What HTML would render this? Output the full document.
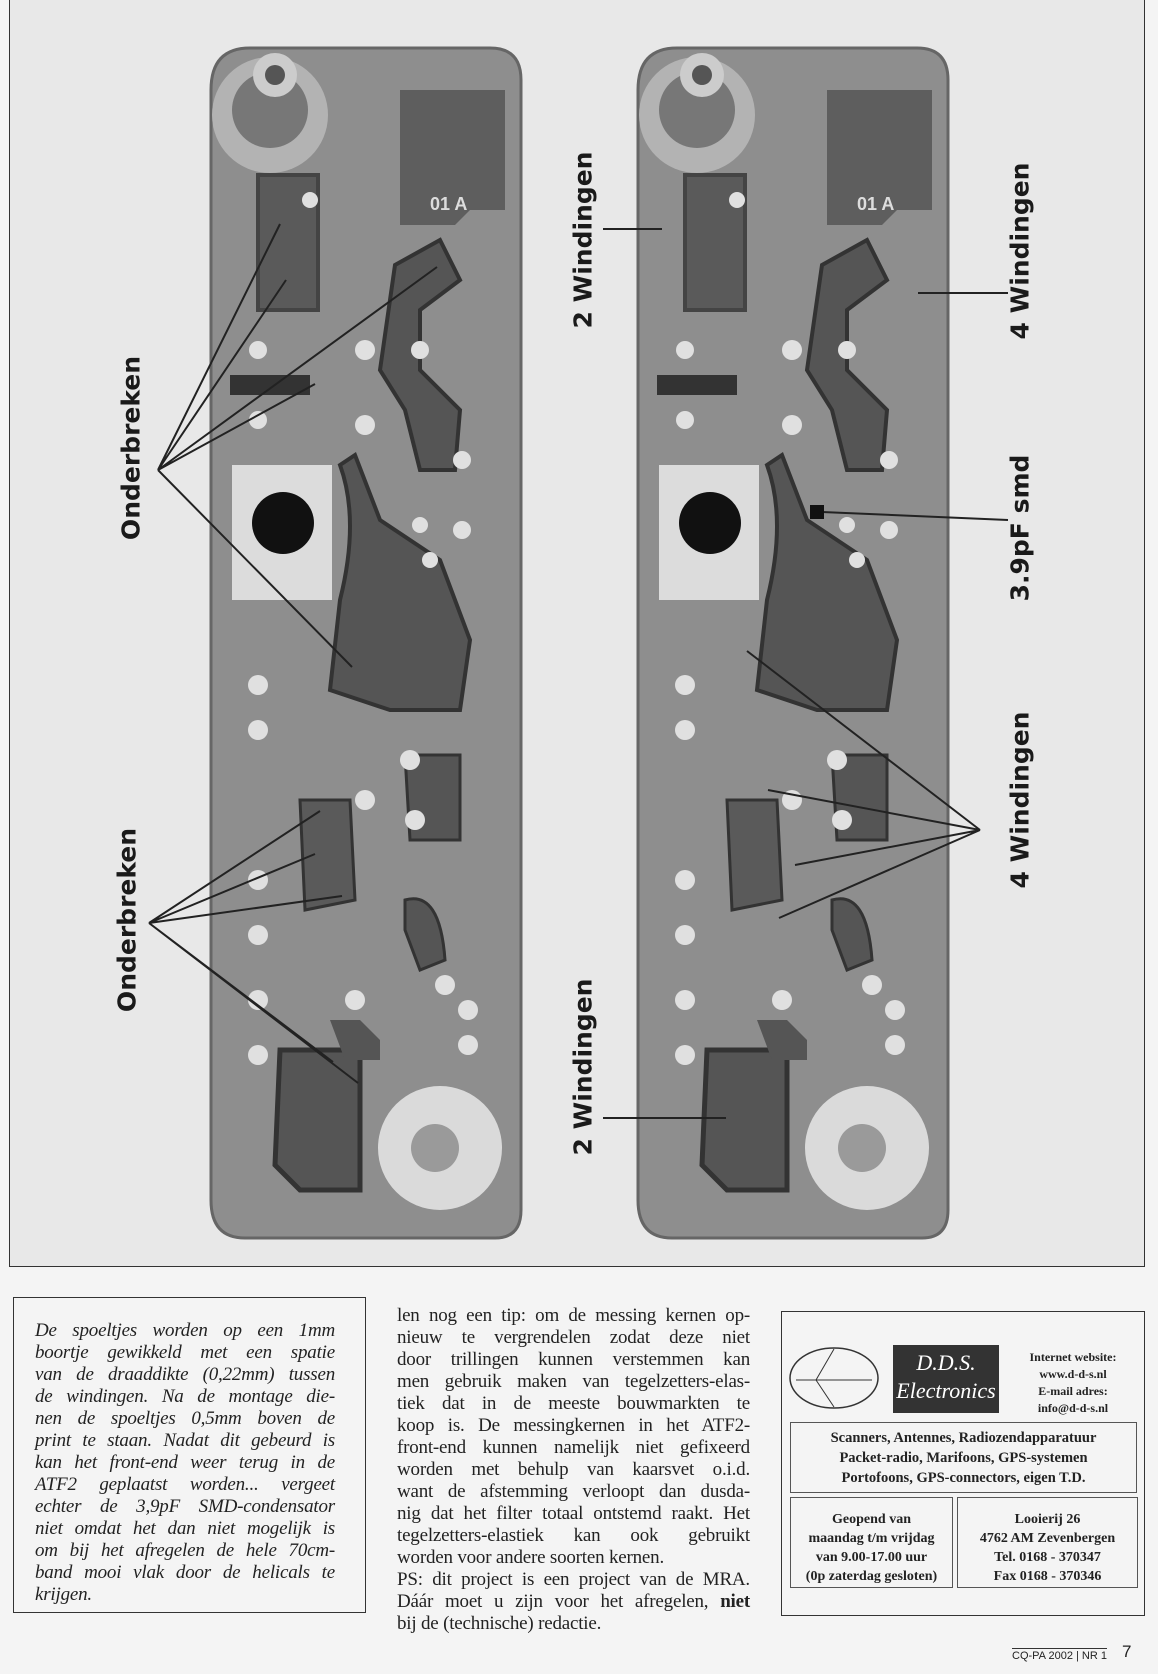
<!DOCTYPE html>
<html><head><meta charset="utf-8"><style>
body{margin:0;width:1158px;height:1674px;background:#f4f4f4;position:relative;overflow:hidden;font-family:"Liberation Serif",serif;color:#222}
.lbl{position:absolute;font-family:"DejaVu Sans","Liberation Sans",sans-serif;font-weight:bold;font-size:25px;color:#1a1a1a;transform:translate(-50%,-50%) rotate(-90deg);white-space:nowrap}
.l{white-space:nowrap;text-align:justify;text-align-last:justify;height:22px;line-height:22px}
</style></head><body>
<div style="position:absolute;left:9px;top:0;width:1134px;height:1266px;border:1px solid #333;border-top:none;background:#e8e8e8"></div>
<svg width="1158" height="1674" style="position:absolute;left:0;top:0">
<defs>
<g id="pcb">
<path d="M250 48 H490 Q521 48 521 80 V1210 Q521 1238 495 1238 H245 Q211 1238 211 1200 V90 Q211 48 250 48Z" fill="#8e8e8e" stroke="#666" stroke-width="3"/>
<path d="M400 90 H505 V210 H470 L455 225 H400Z" fill="#5e5e5e"/>
<text x="430" y="210" font-family="Liberation Sans" font-weight="bold" font-size="18" fill="#ddd">01 A</text>
<circle cx="270" cy="115" r="58" fill="#b3b3b3"/><circle cx="270" cy="110" r="38" fill="#777"/><circle cx="275" cy="75" r="22" fill="#ccc"/><circle cx="275" cy="75" r="10" fill="#555"/>
<path d="M258 175 H318 V310 H258Z" fill="#5a5a5a" stroke="#444" stroke-width="4"/>
<path d="M395 265 L440 240 L460 280 L420 310 L420 370 L460 410 L455 470 L420 470 L405 410 L380 370Z" fill="#555" stroke="#333" stroke-width="4"/>
<rect x="230" y="375" width="80" height="20" fill="#333"/>
<rect x="232" y="465" width="100" height="135" fill="#dcdcdc"/>
<circle cx="283" cy="523" r="31" fill="#111"/>
<path d="M340 465 Q360 520 340 600 L330 690 L390 710 L460 710 L470 640 L440 560 L380 520 L355 455Z" fill="#555" stroke="#333" stroke-width="4"/>
<path d="M405 755 H460 V840 H410Z" fill="#555" stroke="#333" stroke-width="3"/>
<path d="M300 800 L350 800 L355 900 L305 910Z" fill="#5a5a5a" stroke="#333" stroke-width="3"/>
<path d="M405 900 Q440 890 445 960 L420 970 L405 930Z" fill="#555" stroke="#333" stroke-width="3"/>
<path d="M280 1050 H360 V1190 H300 L275 1165Z" fill="#555" stroke="#333" stroke-width="5"/>
<path d="M330 1020 L360 1020 L380 1040 L380 1060 L345 1060Z" fill="#555"/>
<circle cx="440" cy="1148" r="62" fill="#dadada"/><circle cx="435" cy="1148" r="24" fill="#9a9a9a"/>
<g fill="#e0e0e0">
<circle cx="258" cy="350" r="9"/><circle cx="258" cy="420" r="9"/><circle cx="258" cy="685" r="10"/><circle cx="258" cy="730" r="10"/><circle cx="258" cy="880" r="10"/><circle cx="258" cy="935" r="10"/><circle cx="258" cy="1000" r="10"/><circle cx="258" cy="1055" r="10"/>
<circle cx="365" cy="350" r="10"/><circle cx="365" cy="425" r="10"/><circle cx="420" cy="350" r="9"/><circle cx="462" cy="460" r="9"/><circle cx="462" cy="530" r="9"/><circle cx="420" cy="525" r="8"/>
<circle cx="410" cy="760" r="10"/><circle cx="415" cy="820" r="10"/><circle cx="365" cy="800" r="10"/><circle cx="445" cy="985" r="10"/><circle cx="468" cy="1010" r="10"/><circle cx="468" cy="1045" r="10"/><circle cx="355" cy="1000" r="10"/><circle cx="310" cy="200" r="8"/><circle cx="430" cy="560" r="8"/>
</g>
</g>
</defs>
<use href="#pcb"/>
<use href="#pcb" transform="translate(427,0)"/>
<g stroke="#222" stroke-width="2" fill="none">
<path d="M280 224 L158 470 L286 280 M158 470 L437 267 M158 470 L315 384 M158 470 L352 667"/>
<path d="M320 811 L149 923 L315 854 M149 923 L342 896 M149 923 L333 1062 M149 923 L358 1083"/>
<path d="M603 229 H662 M918 293 H1008 M1008 520 L822 512 M980 830 L747 651 M980 830 L768 790 M980 830 L779 918 M980 830 L795 865 M603 1118 H726"/>
</g>
<rect x="810" y="505" width="14" height="14" fill="#111"/>
</svg>
<div class="lbl" style="left:131px;top:448px">Onderbreken</div>
<div class="lbl" style="left:127px;top:920px">Onderbreken</div>
<div class="lbl" style="left:583px;top:240px">2 Windingen</div>
<div class="lbl" style="left:583px;top:1067px">2 Windingen</div>
<div class="lbl" style="left:1020px;top:251px">4 Windingen</div>
<div class="lbl" style="left:1020px;top:528px">3.9pF smd</div>
<div class="lbl" style="left:1020px;top:800px">4 Windingen</div>

<div style="position:absolute;left:13px;top:1297px;width:351px;height:314px;border:1px solid #333;background:#f4f4f4"></div>
<div style="position:absolute;left:35px;top:1320px;width:300px;font-style:italic;font-size:19px;letter-spacing:-0.2px">
<div class="l">De spoeltjes worden op een 1mm</div><div class="l">boortje gewikkeld met een spatie</div><div class="l">van de draaddikte (0,22mm) tussen</div><div class="l">de windingen. Na de montage die-</div><div class="l">nen de spoeltjes 0,5mm boven de</div><div class="l">print te staan. Nadat dit gebeurd is</div><div class="l">kan het front-end weer terug in de</div><div class="l">ATF2 geplaatst worden... vergeet</div><div class="l">echter de 3,9pF SMD-condensator</div><div class="l">niet omdat het dan niet mogelijk is</div><div class="l">om bij het afregelen de hele 70cm-</div><div class="l">band mooi vlak door de helicals te</div><div class="l" style="text-align-last:left">krijgen.</div>
</div>
<div style="position:absolute;left:397px;top:1305px;width:353px;font-size:19px;letter-spacing:-0.2px">
<div class="l">len nog een tip: om de messing kernen op-</div><div class="l">nieuw te vergrendelen zodat deze niet</div><div class="l">door trillingen kunnen verstemmen kan</div><div class="l">men gebruik maken van tegelzetters-elas-</div><div class="l">tiek dat in de meeste bouwmarkten te</div><div class="l">koop is. De messingkernen in het ATF2-</div><div class="l">front-end kunnen namelijk niet gefixeerd</div><div class="l">worden met behulp van kaarsvet o.i.d.</div><div class="l">want de afstemming verloopt dan dusda-</div><div class="l">nig dat het filter totaal ontstemd raakt. Het</div><div class="l">tegelzetters-elastiek kan ook gebruikt</div><div class="l" style="text-align-last:left">worden voor andere soorten kernen.</div><div class="l">PS: dit project is een project van de MRA.</div><div class="l">Dáár moet u zijn voor het afregelen, <b>niet</b></div><div class="l" style="text-align-last:left">bij de (technische) redactie.</div>
</div>
<div style="position:absolute;left:781px;top:1311px;width:362px;height:303px;border:1px solid #333"></div>
<svg style="position:absolute;left:786px;top:1345px" width="100" height="70"><ellipse cx="48" cy="33" rx="44" ry="30" fill="none" stroke="#333" stroke-width="1.5"/><path d="M10 35 H86 M48 4 L30 35 L48 62" stroke="#333" fill="none"/></svg>
<div style="position:absolute;left:893px;top:1345px;width:106px;height:64px;background:#333;color:#fff;font-style:italic;font-size:22px;text-align:center;line-height:28px;padding-top:4px">D.D.S.<br>Electronics</div>
<div style="position:absolute;left:1003px;top:1349px;width:140px;text-align:center;font-size:12px;font-weight:bold;line-height:17px">Internet website:<br>www.d-d-s.nl<br>E-mail adres:<br>info@d-d-s.nl</div>
<div style="position:absolute;left:790px;top:1422px;width:347px;height:71px;border:1px solid #555;text-align:center;font-size:14.5px;font-weight:bold;line-height:20px;padding-top:5px;box-sizing:border-box">Scanners, Antennes, Radiozendapparatuur<br>Packet-radio, Marifoons, GPS-systemen<br>Portofoons, GPS-connectors, eigen T.D.</div>
<div style="position:absolute;left:790px;top:1497px;width:163px;height:91px;border:1px solid #555;text-align:center;font-size:14px;font-weight:bold;line-height:19px;padding-top:12px;box-sizing:border-box">Geopend van<br>maandag t/m vrijdag<br>van 9.00-17.00 uur<br>(0p zaterdag gesloten)</div>
<div style="position:absolute;left:957px;top:1497px;width:181px;height:91px;border:1px solid #555;text-align:center;font-size:14px;font-weight:bold;line-height:19px;padding-top:12px;box-sizing:border-box">Looierij 26<br>4762 AM Zevenbergen<br>Tel. 0168 - 370347<br>Fax 0168 - 370346</div>
<div style="position:absolute;left:1012px;top:1648px;font-family:'Liberation Sans',sans-serif;font-size:11px;border-top:1px solid #333;padding-top:1px">CQ-PA 2002 | NR 1</div>
<div style="position:absolute;left:1122px;top:1642px;font-family:'Liberation Sans',sans-serif;font-size:17px">7</div>
</body></html>
